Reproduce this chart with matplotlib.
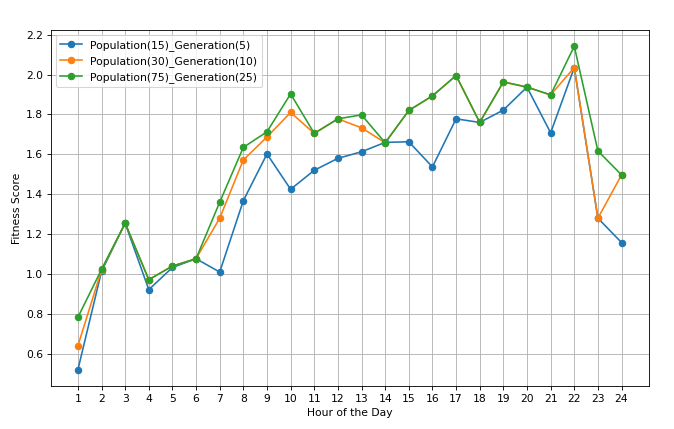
import matplotlib
matplotlib.use("Agg")
import matplotlib.pyplot as plt

hours = list(range(1, 25))
pop15_gen5 = [0.52, 1.013, 1.255, 0.922, 1.033, 1.077, 1.010, 1.368, 1.602, 1.425,
              1.520, 1.580, 1.613, 1.660, 1.663, 1.537, 1.778, 1.760, 1.822, 1.937,
              1.708, 2.035, 1.280, 1.158]
pop30_gen10 = [0.640, 1.020, 1.255, 0.972, 1.040, 1.077, 1.280, 1.572, 1.687, 1.810,
               1.705, 1.778, 1.733, 1.658, 1.820, 1.893, 1.995, 1.760, 1.963, 1.937,
               1.898, 2.035, 1.280, 1.497]
pop75_gen25 = [0.783, 1.023, 1.255, 0.972, 1.040, 1.077, 1.360, 1.635, 1.713, 1.903,
               1.705, 1.778, 1.798, 1.658, 1.820, 1.893, 1.995, 1.760, 1.963, 1.937,
               1.898, 2.142, 1.617, 1.497]
labels = ["Population(15)_Generation(5)", "Population(30)_Generation(10)",
          "Population(75)_Generation(25)"]

DPI = 77
fig = plt.figure(figsize=(674 / DPI, 429 / DPI), dpi=DPI)
ax = fig.add_axes([0.0752, 0.1002, 0.8873, 0.8298])
for vals, lab in zip([pop15_gen5, pop30_gen10, pop75_gen25], labels):
    ax.plot(hours, vals, marker="o", label=lab)
ax.set_xticks(hours)
ax.set_xlabel("Hour of the Day")
ax.set_ylabel("Fitness Score")
ax.grid(True)
ax.legend(loc="upper left")
fig.savefig("out.png", dpi=DPI)
